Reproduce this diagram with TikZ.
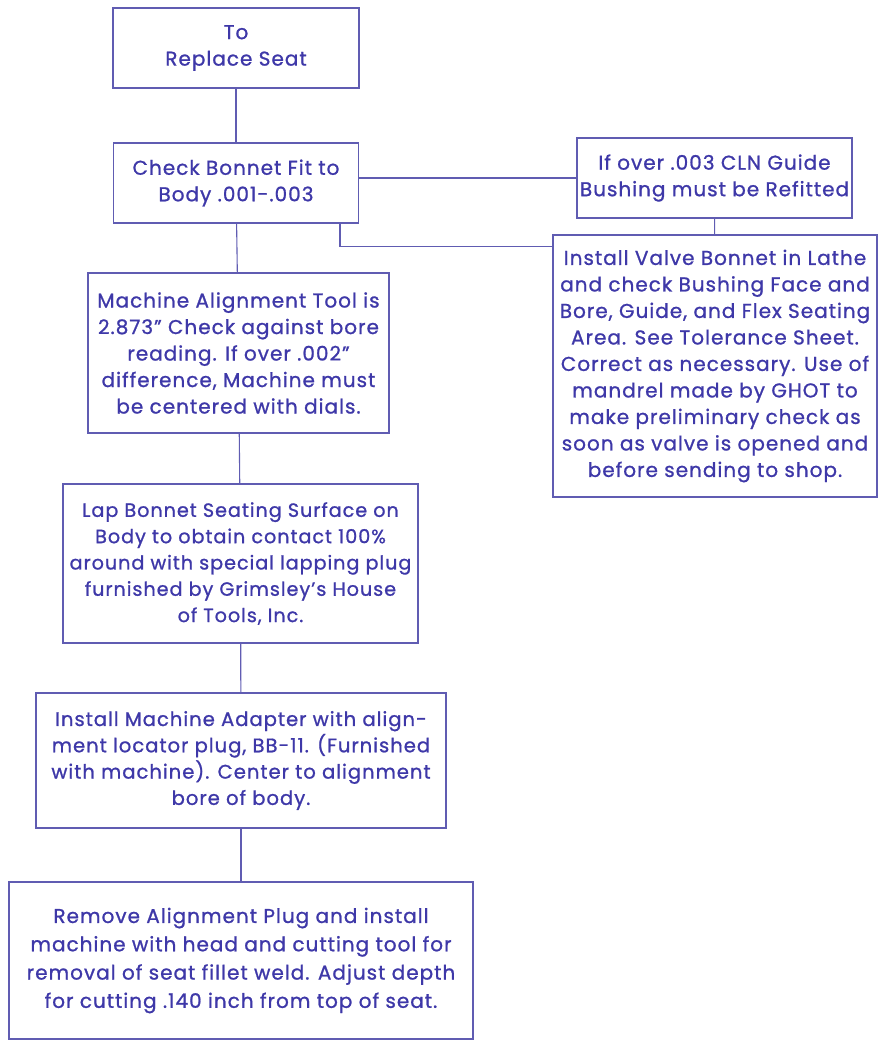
\documentclass[tikz,border=0pt]{standalone}
\usepackage{fontspec}
\setmainfont{Poppins}[LetterSpace=5, FakeBold=1]
\usepackage{tikz}
\usetikzlibrary{positioning,calc}

\definecolor{inkblue}{RGB}{62,56,168}
\definecolor{lineblue}{RGB}{96,92,178}

\begin{document}
\begin{tikzpicture}[
  x=1pt, y=-1pt,
  font=\fontsize{20}{26.5}\selectfont,
  stepbox/.style={draw=lineblue, line width=1.1pt, align=center, inner sep=2pt, text=inkblue},
  link/.style={draw=lineblue, line width=1.1pt}
]
\useasboundingbox (0,0) rectangle (878,1041);

% main column
\node[stepbox, minimum width=246pt, minimum height=80pt] (seat) at (236,48) {To\\Replace Seat};
\node[stepbox, minimum width=245pt, minimum height=80pt] (fit) at (236,183) {Check Bonnet Fit to\\Body .001-.003};
\node[stepbox, minimum width=301pt, minimum height=160pt] (tool) at (238.5,353) {Machine Alignment Tool is\\2.873'' Check against bore\\reading. If over .002''\\difference, Machine must\\be centered with dials.};
\node[stepbox, minimum width=355pt, minimum height=159pt, font=\fontsize{19.2}{26.3}\selectfont] (lap) at (240.5,563.5) {Lap Bonnet Seating Surface on\\Body to obtain contact 100\%\\around with special lapping plug\\furnished by Grimsley's House\\of Tools, Inc.};
\node[stepbox, minimum width=410pt, minimum height=135pt, font=\fontsize{19.6}{26.3}\selectfont] (adapter) at (241,760.5) {Install Machine Adapter with align-\\ment locator plug, BB-11. (Furnished\\with machine). Center to alignment\\bore of body.};
\node[stepbox, minimum width=464pt, minimum height=157pt, font=\fontsize{20}{28.3}\selectfont] (cut) at (241,960.5) {Remove Alignment Plug and install\\machine with head and cutting tool for\\removal of seat fillet weld. Adjust depth\\for cutting .140 inch from top of seat.};

% side branch
\node[stepbox, minimum width=275pt, minimum height=80pt] (refit) at (714.5,178) {If over .003 CLN Guide\\Bushing must be Refitted};
\node[stepbox, minimum width=324pt, minimum height=262pt] (lathe) at (715,366) {Install Valve Bonnet in Lathe\\and check Bushing Face and\\Bore, Guide, and Flex Seating\\Area. See Tolerance Sheet.\\Correct as necessary. Use of\\mandrel made by GHOT to\\make preliminary check as\\soon as valve is opened and\\before sending to shop.};

% connectors
\draw[link] (seat) -- (fit);
\draw[link] (fit) -- (tool);
\draw[link] (tool) -- (lap);
\draw[link] (lap) -- (adapter);
\draw[link] (adapter) -- (cut);
\draw[link] (fit.east |- refit.west) -- (refit.west);
\draw[link] (refit) -- (lathe);
\draw[link] ([xshift=104pt]fit.south) |- ([yshift=-12pt]lathe.north west);
\end{tikzpicture}
\end{document}
